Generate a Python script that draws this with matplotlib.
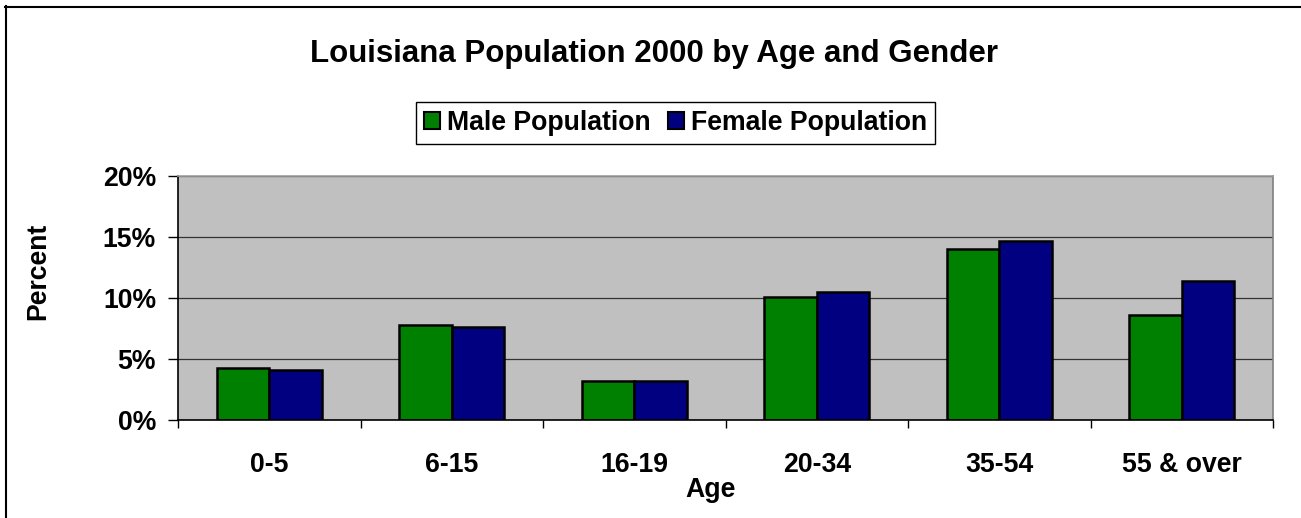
import matplotlib
matplotlib.use("Agg")
import numpy as np
import matplotlib.pyplot as plt
from matplotlib.patches import Patch
from matplotlib.lines import Line2D
from matplotlib.ticker import PercentFormatter

# --- Data (percent of total population) ---
age_groups = ["0-5", "6-15", "16-19", "20-34", "35-54", "55 & over"]
male_pct = [4.3, 7.8, 3.2, 10.1, 14.0, 8.6]
female_pct = [4.1, 7.6, 3.2, 10.5, 14.7, 11.4]
series_names = ["Male Population", "Female Population"]

# --- Style ---
W, H = 1301, 518
plt.rcParams['font.family'] = ['Liberation Sans', 'DejaVu Sans']
plt.rcParams['font.weight'] = 'bold'
MALE_COLOR = '#008000'
FEMALE_COLOR = '#000080'
BIG = 19.2

fig = plt.figure(figsize=(W / 100, H / 100), dpi=100)
ax = fig.add_axes([178 / W, 1 - 420 / H, (1273 - 178) / W, (420 - 176) / H])
ax.set_facecolor('#C0C0C0')

x = np.arange(len(age_groups))
bw = 0.2877
ax.bar(x - bw / 2, male_pct, bw, color=MALE_COLOR, edgecolor='black', linewidth=1.8, zorder=3)
ax.bar(x + bw / 2, female_pct, bw, color=FEMALE_COLOR, edgecolor='black', linewidth=1.8, zorder=3)

ax.set_xlim(-0.5, len(age_groups) - 0.5)
ax.set_ylim(0, 20)
ax.set_yticks([0, 5, 10, 15, 20])
ax.yaxis.set_major_formatter(PercentFormatter(decimals=0))
ax.grid(axis='y', color='#333333', linewidth=0.9, zorder=1)

ax.set_xticks(x)
ax.set_xticklabels(age_groups)
ax.set_xticks(np.arange(-0.5, len(age_groups)), minor=True)
ax.tick_params(axis='x', which='major', length=0, pad=23, labelsize=BIG)
ax.tick_params(axis='x', which='minor', length=6, width=1, color='black')
ax.tick_params(axis='y', length=7.2, width=1, pad=8.6, labelsize=BIG)
for lbl in ax.get_xticklabels() + ax.get_yticklabels():
    lbl.set_fontweight('bold')

ax.spines['left'].set_color('black')
ax.spines['bottom'].set_color('black')
ax.spines['top'].set_color('#A0A0A0')
ax.spines['right'].set_color('#808080')
for s in ax.spines.values():
    s.set_linewidth(1.2)
    s.set_zorder(4)

# titles and labels
fig.text(654 / W, 1 - 62 / H, "Louisiana Population 2000 by Age and Gender",
         ha='center', va='baseline', fontsize=22.5, fontweight='bold')
fig.text(38 / W, 1 - 271 / H, "Percent", rotation=90, ha='center', va='center',
         fontsize=BIG, fontweight='bold')
fig.text(711 / W, 1 - 497 / H, "Age", ha='center', va='baseline',
         fontsize=BIG, fontweight='bold')

handles = [Patch(facecolor=MALE_COLOR, edgecolor='black', linewidth=1.5),
           Patch(facecolor=FEMALE_COLOR, edgecolor='black', linewidth=1.5)]
leg = fig.legend(handles, series_names, loc='center', ncol=2,
                 bbox_to_anchor=(675.5 / W, 1 - 122.5 / H),
                 prop={'size': BIG, 'weight': 'bold'},
                 handlelength=0.6, handleheight=0.6, handletextpad=0.26,
                 columnspacing=0.67, borderpad=0.3, fancybox=False,
                 framealpha=1, edgecolor='black')
leg.get_frame().set_linewidth(1.0)

# outer chart border (top and left edges visible)
fig.add_artist(Line2D([5 / W, 1], [1 - 6.5 / H, 1 - 6.5 / H], color='black', linewidth=1.5))
fig.add_artist(Line2D([6 / W, 6 / W], [0, 1 - 6 / H], color='black', linewidth=1.5))

fig.savefig("out.png", dpi=100)
